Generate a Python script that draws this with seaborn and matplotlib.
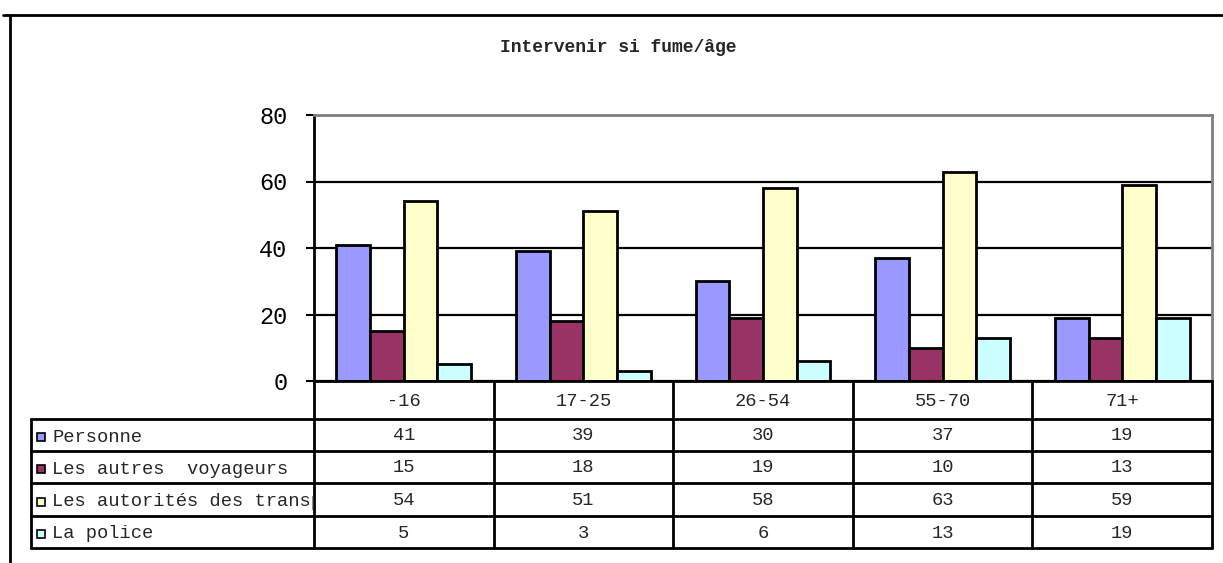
import pandas as pd
import matplotlib
matplotlib.use("Agg")
import matplotlib.pyplot as plt
from matplotlib.transforms import blended_transform_factory, Bbox, TransformedBbox
from matplotlib.patches import Rectangle
import seaborn as sns

ages = ["-16", "17-25", "26-54", "55-70", "71+"]
groupes = ["Personne", "Les autres  voyageurs", "Les autorités des transports", "La police"]
personne = [41, 39, 30, 37, 19]
autres_voyageurs = [15, 18, 19, 10, 13]
autorites = [54, 51, 58, 63, 59]
police = [5, 3, 6, 13, 19]
couleurs = ["#9999FF", "#993366", "#FFFFCC", "#CCFFFF"]

series = [personne, autres_voyageurs, autorites, police]
rows = []
for g, vals in zip(groupes, series):
    for a, v in zip(ages, vals):
        rows.append({"age": a, "groupe": g, "valeur": v})
df = pd.DataFrame(rows)

sns.set_style("white")
plt.rcParams["font.family"] = ["Liberation Mono", "DejaVu Sans Mono"]

W, H = 1223, 563
fig = plt.figure(figsize=(W / 100, H / 100), dpi=100)

# calque en pixels pour le cadre et le tableau
over = fig.add_axes([0, 0, 1, 1], zorder=-1)
over.set_xlim(0, W)
over.set_ylim(H, 0)
over.axis("off")

ax = fig.add_axes([314 / W, 1 - 381 / H, (1212 - 314) / W, (381 - 115) / H])
ax.set_axisbelow(True)
sns.barplot(data=df, x="age", y="valeur", hue="groupe", order=ages, hue_order=groupes,
            palette=dict(zip(groupes, couleurs)), saturation=1, width=0.75,
            edgecolor="black", linewidth=2, legend=False, ax=ax)
ax.set_xlim(-0.5, len(ages) - 0.5)
ax.set_ylim(0, 80)
ax.set_yticks(range(0, 81, 20))
ax.yaxis.grid(True, color="black", lw=1.6)
ax.set_xlabel("")
ax.set_ylabel("")
ax.tick_params(axis="x", length=0, labelbottom=False)
ax.tick_params(axis="y", length=6, width=1.5, pad=13, labelsize=17, colors="black", left=True)
for s in ["top", "right"]:
    ax.spines[s].set_color("#808080")
    ax.spines[s].set_linewidth(2)
for s in ["left", "bottom"]:
    ax.spines[s].set_color("black")
    ax.spines[s].set_linewidth(2)

# titre
fig.text(618 / W, 1 - 47 / H, "Intervenir si fume/âge", ha="center", va="center",
         fontsize=13, fontweight="bold")

# cadre du graphique
over.plot([10, 10], [15, H], color="black", lw=2, clip_on=False)
over.plot([3, W], [15, 15], color="black", lw=2, clip_on=False)

# tableau de données
tr = blended_transform_factory(ax.transData, over.transData)
row_y = [419, 451, 483, 516, 548]
for i in range(len(ages) + 1):
    over.plot([i - 0.5, i - 0.5], [381, row_y[-1]], transform=tr, color="black", lw=2,
              clip_on=False)
for y in row_y:
    over.plot([31, 1212], [y, y], color="black", lw=2, clip_on=False)
over.plot([31, 31], [row_y[0], row_y[-1]], color="black", lw=2, clip_on=False)

for i, a in enumerate(ages):
    over.text(i, 401, a, transform=tr, ha="center", va="center", fontsize=13.5)

for j, (g, vals, c) in enumerate(zip(groupes, series, couleurs)):
    y0, y1 = row_y[j], row_y[j + 1]
    yc = (y0 + y1) / 2 + 2
    over.add_patch(Rectangle((37, yc - 4), 8, 8, facecolor=c, edgecolor="black", lw=1.2))
    t = over.text(52, yc, g, ha="left", va="center", fontsize=13.5)
    clip = TransformedBbox(Bbox.from_extents(31 / W, 1 - y1 / H, 314 / W, 1 - y0 / H),
                           fig.transFigure)
    t.set_clip_on(True)
    t.set_clip_box(clip)
    for i, v in enumerate(vals):
        over.text(i, yc - 1, str(v), transform=tr, ha="center", va="center", fontsize=13.5)

fig.savefig("out.png", dpi=100)
